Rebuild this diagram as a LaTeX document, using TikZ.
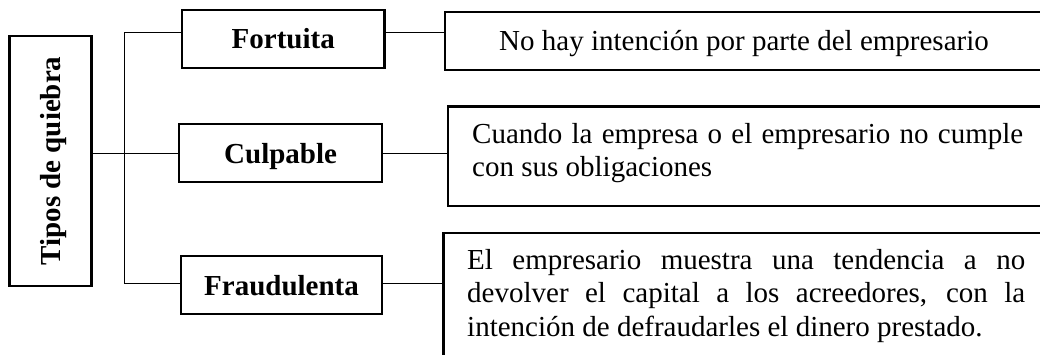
\documentclass[tikz,border=0pt]{standalone}
\usepackage{fontspec}
\setmainfont{Liberation Serif}
\begin{document}
\begin{tikzpicture}[x=1pt,y=-1pt,
  catbox/.style={draw, line width=2.2pt, inner sep=0pt, font=\bfseries\fontsize{29}{29}\selectfont, text height=20pt, text depth=0pt},
  descbox/.style={draw, line width=2.2pt, inner sep=0pt},
  desctext/.style={inner sep=0pt, anchor=base west, align=left},
  conn/.style={line width=1.1pt}]
\useasboundingbox (0,0) rectangle (1040,355);
\begin{scope}
\clip (0,0) rectangle (1040,355);
\fill[white] (0,0) rectangle (1040,355);
% category boxes
\node[catbox, rotate=90, minimum width=250pt, minimum height=82pt] (tipos) at (50.5,161) {Tipos de quiebra};
\node[catbox, minimum width=202.5pt, minimum height=58pt] (fort) at (283.25,39) {Fortuita};
\node[catbox, minimum width=203.3pt, minimum height=58pt] (culp) at (280.65,153.3) {Culpable};
\node[catbox, minimum width=201.6pt, minimum height=58.3pt] (frau) at (281.5,285.15) {Fraudulenta};
% description boxes
\node[descbox, minimum width=615pt, minimum height=57.7pt] (d1) at (752.5,41.15) {};
\node[descbox, minimum width=612pt, minimum height=99.5pt] (d2) at (754,156.25) {};
\node[descbox, minimum width=616.5pt, minimum height=147pt] (d3) at (751.75,306.5) {};
% description texts (base anchor = baseline of last line)
\node[desctext, font=\fontsize{29}{29}\selectfont] (t1) at (499,50.7) {No hay intención por parte del empresario};
\node[desctext, font=\fontsize{29}{33}\selectfont] (t2) at (472,177) {\makebox[551pt][s]{Cuando la empresa o el empresario no cumple}\\con sus obligaciones};
\node[desctext, font=\fontsize{29}{33.3}\selectfont] (t3) at (467,336) {\makebox[558pt][s]{El empresario muestra una tendencia a no}\\\makebox[558pt][s]{devolver el capital a los acreedores, con la}\\intención de defraudarles el dinero prestado.};
% connectors
\coordinate (bus) at (124.3,160);
\coordinate (fl) at ([yshift=6.7pt]fort.west);
\coordinate (fr) at ([yshift=6.7pt]fort.east);
\coordinate (ql) at ([yshift=1.8pt]frau.west);
\coordinate (qr) at ([yshift=1.8pt]frau.east);
\draw[conn] (fl) -| (bus) |- (ql);
\draw[conn] (tipos.south |- culp.west) -- (culp.west);
\draw[conn] (fr) -- (fr -| d1.west);
\draw[conn] (culp.east) -- (culp.east -| d2.west);
\draw[conn] (qr) -- (qr -| d3.west);
\end{scope}
\end{tikzpicture}
\end{document}
